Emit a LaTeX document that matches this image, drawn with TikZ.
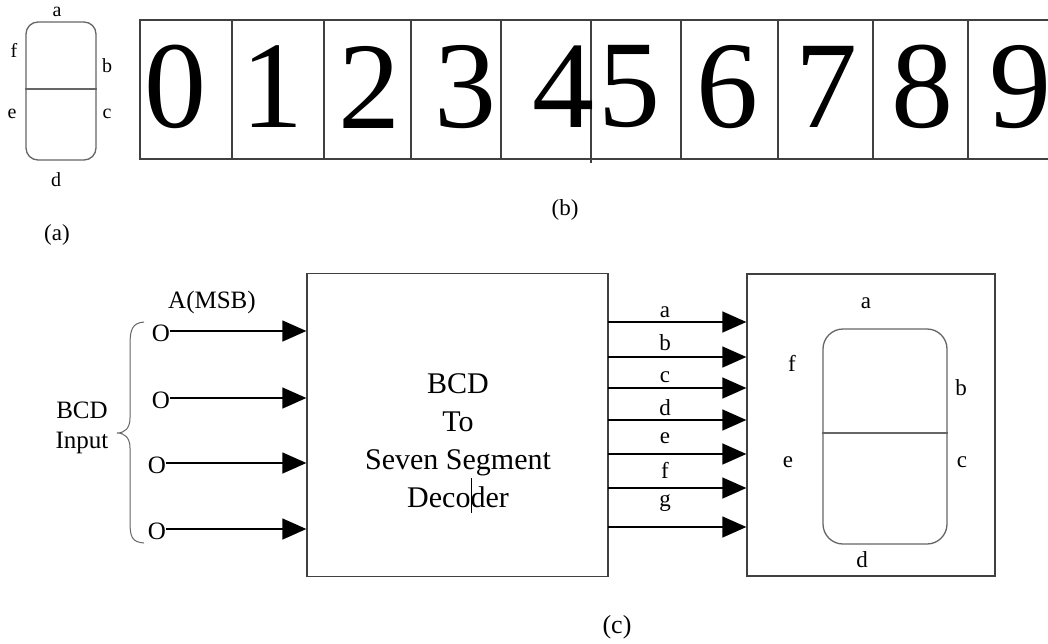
\documentclass[tikz,border=0pt]{standalone}
\usepackage{fontspec}
\setmainfont{Liberation Serif}
\usetikzlibrary{arrows.meta}
\tikzset{
  boxline/.style={draw=black!75, line width=1.3pt},
  seg/.style={draw=black!60, line width=1.3pt},
  arr/.style={line width=1.4pt, -{Triangle[length=24pt,width=21pt]}},
  dig/.style={font=\fontsize{124}{124}\selectfont, inner sep=0pt},
  lbl/.style={font=\fontsize{23}{23}\selectfont, inner sep=0pt},
  slbl/.style={font=\fontsize{20}{20}\selectfont, inner sep=0pt},
  big/.style={font=\fontsize{25}{25}\selectfont, inner sep=0pt},
}
\begin{document}
\begin{tikzpicture}[x=1pt,y=-1pt]
\useasboundingbox[fill=white] (0,0) rectangle (1048,643);
% ---------- (a) ----------
\node[seg, rounded corners=12pt, minimum width=70pt, minimum height=138pt, inner sep=0pt] (sa) at (61,91) {};
\draw[seg] (sa.west |- 0,89) coordinate (sam1) -- (sam1 -| sa.east);
\node[slbl] (aa) at (57,12) {a};
\node[slbl] (af) at (14,50) {f};
\node[slbl] (ab) at (107,66) {b};
\node[slbl] (ae) at (12,114) {e};
\node[slbl] (ac) at (107,114) {c};
\node[slbl] (ad) at (56,180) {d};
\node[lbl] (capa) at (57,235) {(a)};
% ---------- (b) ----------
\coordinate (bl1) at (140,20);
\coordinate (bl2) at (140,159);
\draw[boxline] (1048,20) -- (bl1) -- (bl2) -- (1048,159);
\foreach \x in {232,324,411,501,681,778,873,968}{
  \draw[boxline] (\x,20) -- (\x,159);
}
\draw[boxline] (591,20) -- (591,163);
\node[dig] (d0) at (175,87) {0};
\node[dig] (d1) at (272,87) {1};
\node[dig] (d2) at (369,87) {2};
\node[dig] (d3) at (465,87) {3};
\node[dig] (d4) at (563,87) {4};
\node[dig] (d5) at (629,87) {5};
\node[dig] (d6) at (727,87) {6};
\node[dig] (d7) at (826,87) {7};
\node[dig] (d8) at (922,87) {8};
\node[dig] (d9) at (1020,87) {9};
\node[lbl] (capb) at (565,210) {(b)};
% ---------- (c) ----------
\node[boxline, minimum width=301pt, minimum height=303pt, inner sep=0pt] (dec) at (457.5,425) {};
\node[font=\fontsize{30}{38}\selectfont, align=center, inner sep=0pt] (dectext) at (458,441)
  {BCD\\To\\Seven Segment\\Decoder};
\draw[line width=1pt] (471,478) -- (471,513);
\node[boxline, minimum width=248pt, minimum height=302pt, inner sep=0pt] (disp) at (871,425) {};
\node[seg, rounded corners=20pt, minimum width=124pt, minimum height=215pt, inner sep=0pt] (sc) at (885,436.5) {};
\draw[seg] (sc.west |- 0,433) coordinate (scm1) -- (scm1 -| sc.east);
\node[lbl] (ca) at (866,303) {a};
\node[lbl] (cf) at (792,363) {f};
\node[lbl] (cb) at (961,388) {b};
\node[lbl] (ce) at (788,462) {e};
\node[lbl] (cc) at (962,462) {c};
\node[lbl] (cd) at (862,560) {d};
% inputs
\node[big] (in1) at (161,333) {O};
\node[big] (in2) at (161,400) {O};
\node[big] (in3) at (157,465) {O};
\node[big] (in4) at (157,531) {O};
\foreach \i/\y in {1/331,2/398,3/463,4/529}{
  \draw[arr] (in\i.east |- 0,\y) coordinate (s\i) -- (s\i -| dec.west);
}
\node[big] (msb) at (212,302) {A(MSB)};
\node[big, align=center, font=\fontsize{25}{30}\selectfont] (bcdin) at (82,428) {BCD\\Input};
\draw[draw=black!60, line width=1pt] (144,322) .. controls (132,323) and (130,330) .. (130,345)
  -- (130,418) .. controls (130,428) and (125,433) .. (117,433)
  .. controls (125,433) and (130,438) .. (130,448)
  -- (130,522) .. controls (130,537) and (132,542) .. (144,543);
% outputs
\foreach \y/\l/\ly in {322/a/312,357/b/343,388/c/377,420/d/408,454/e/438,488/f/470,527/g/503}{
  \coordinate (o\l) at (608,\y);
  \draw[arr] (o\l) -- (o\l -| disp.west);
  \node[lbl] (ol\l) at (665,\ly) {\l};
}
\node[font=\fontsize{26}{26}\selectfont, inner sep=0pt] (capc) at (617,627) {(c)};
\end{tikzpicture}
\end{document}
